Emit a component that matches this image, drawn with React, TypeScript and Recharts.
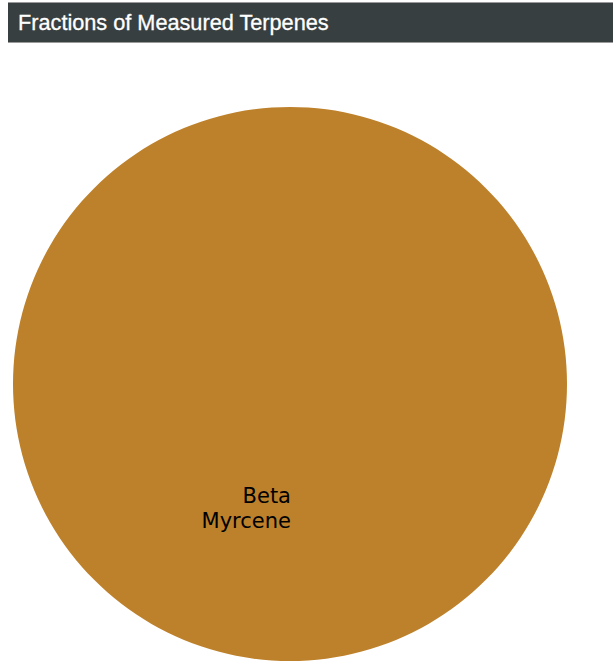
import React from 'react';
import { PieChart, Pie, Cell } from 'recharts';

const terpeneNames = ['Beta Myrcene'];
const terpeneFractions = [1.0];
const sliceColors = ['#BE812B'];

const data = terpeneNames.map((name, i) => ({ name, value: terpeneFractions[i] }));

const renderLabel = (props: any) => {
  const { cx, cy, name } = props;
  const words = String(name).split(' ');
  return (
    <text
      x={cx + 1}
      y={cy + 119}
      textAnchor="end"
      fill="#000"
      fontFamily="DejaVu Sans"
      fontSize={21}
    >
      {words.map((w: string, i: number) => (
        <tspan key={i} x={cx + 1} dy={i === 0 ? 0 : 25}>
          {w}
        </tspan>
      ))}
    </text>
  );
};

export default function App() {
  return (
    <div style={{ position: 'absolute', left: 0, top: 0, width: 613, height: 666, background: '#fff', overflow: 'hidden' }}>
      <div
        style={{
          position: 'absolute',
          left: 8,
          top: 2,
          width: 605,
          height: 41,
          boxSizing: 'border-box',
          background: '#383F40',
          borderTop: '1px solid #9a9a9a',
          borderBottom: '1px solid #9a9a9a',
          color: '#fff',
          fontFamily: '"Liberation Sans", Arial, sans-serif',
          fontWeight: 'normal',
          fontSize: 21.7,
          lineHeight: '38px',
          paddingTop: 1,
          paddingLeft: 10,
          whiteSpace: 'nowrap',
          WebkitTextStroke: '0.3px #fff',
        }}
      >
        Fractions of Measured Terpenes
      </div>
      <div style={{ position: 'absolute', left: 8, top: 43 }}>
        <PieChart width={605} height={620} margin={{ top: 0, right: 0, bottom: 0, left: 0 }}>
          <Pie
            data={data}
            dataKey="value"
            nameKey="name"
            cx={282}
            cy={341}
            outerRadius={277}
            startAngle={90}
            endAngle={-270}
            stroke="none"
            labelLine={false}
            label={renderLabel}
            isAnimationActive={false}
          >
            {data.map((d, i) => (
              <Cell key={d.name} fill={sliceColors[i]} />
            ))}
          </Pie>
        </PieChart>
      </div>
    </div>
  );
}
